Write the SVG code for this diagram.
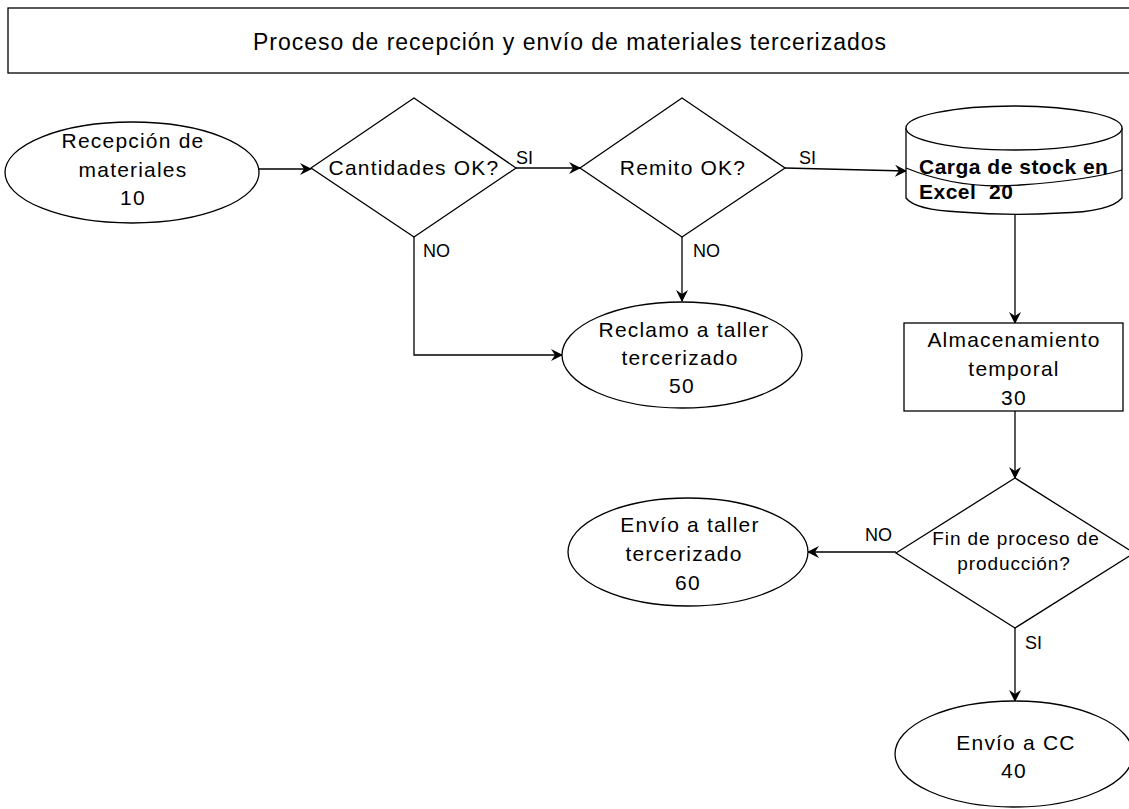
<svg xmlns="http://www.w3.org/2000/svg" width="1129" height="809" viewBox="0 0 1129 809">
<defs>
<style>
.s{fill:#fff;stroke:#000;stroke-width:1.3}
.c{fill:none;stroke:#000;stroke-width:1.3}
.t{font-family:"Liberation Sans",Arial,sans-serif;font-size:21px;letter-spacing:1.2px;fill:#000;text-anchor:middle}
.h{font-size:23px;letter-spacing:1px}
.f{font-size:19px;letter-spacing:0.9px}
.l{font-family:"Liberation Sans",Arial,sans-serif;font-size:18px;fill:#000}
.b{font-family:"Liberation Sans",Arial,sans-serif;font-size:21px;font-weight:bold;letter-spacing:0.5px;fill:#000}
</style>
<marker id="a" viewBox="0 0 12 12" refX="11" refY="6" markerWidth="12" markerHeight="12" markerUnits="userSpaceOnUse" orient="auto">
<path d="M0,0 L12,6 L0,12 L4,6 Z" fill="#000"/>
</marker>
</defs>
<rect width="1129" height="809" fill="#fff"/>
<g id="title">
<rect x="8" y="8" width="1130" height="65" class="s"/>
<text x="570" y="50" class="t h">Proceso de recepción y envío de materiales tercerizados</text>
</g>
<g id="connectors">
<line x1="259" y1="169" x2="311" y2="169" class="c" marker-end="url(#a)"/>
<line x1="516" y1="168" x2="580" y2="168" class="c" marker-end="url(#a)"/>
<line x1="785" y1="168" x2="906" y2="171" class="c" marker-end="url(#a)"/>
<polyline points="414,237 414,355 562,355" class="c" marker-end="url(#a)"/>
<line x1="682" y1="237" x2="682" y2="301" class="c" marker-end="url(#a)"/>
<line x1="1015" y1="213" x2="1015" y2="323" class="c" marker-end="url(#a)"/>
<line x1="1015" y1="411" x2="1015" y2="478" class="c" marker-end="url(#a)"/>
<line x1="896" y1="552" x2="808" y2="552" class="c" marker-end="url(#a)"/>
<line x1="1015" y1="628" x2="1015" y2="701" class="c" marker-end="url(#a)"/>
<text x="516" y="164" class="l">SI</text>
<text x="799" y="164" class="l">SI</text>
<text x="423" y="257" class="l">NO</text>
<text x="693" y="257" class="l">NO</text>
<text x="865" y="541" class="l">NO</text>
<text x="1025" y="649" class="l">SI</text>
</g>
<g id="n10">
<ellipse cx="132" cy="172.5" rx="127" ry="50.5" class="s"/>
<text x="133" y="148" class="t">Recepción de</text>
<text x="133" y="177" class="t">materiales</text>
<text x="133" y="205" class="t">10</text>
</g>
<g id="d1">
<polygon points="311,168 414,98 516,168 414,237" class="s"/>
<text x="414" y="175" class="t">Cantidades OK?</text>
</g>
<g id="d2">
<polygon points="580,168 682,98 785,168 682,237" class="s"/>
<text x="683" y="175" class="t">Remito OK?</text>
</g>
<g id="n20">
<path d="M906,128 V198 Q915,210 960,212 Q1010,216 1060,213 Q1110,212 1122,198 V128" class="s"/>
<ellipse cx="1014" cy="128" rx="108" ry="22" class="s"/>
<path d="M906,168 Q960,190 1020,185 Q1090,180 1122,170" class="c"/>
<text x="919" y="174" class="b">Carga de stock en</text>
<text x="919" y="199" class="b" xml:space="preserve">Excel  20</text>
</g>
<g id="n50">
<ellipse cx="682" cy="355" rx="120" ry="53" class="s"/>
<text x="684" y="337" class="t">Reclamo a taller</text>
<text x="680" y="365" class="t">tercerizado</text>
<text x="682" y="393" class="t">50</text>
</g>
<g id="n30">
<rect x="904" y="323" width="219" height="88" class="s"/>
<text x="1014" y="347" class="t">Almacenamiento</text>
<text x="1014" y="376" class="t">temporal</text>
<text x="1014" y="405" class="t">30</text>
</g>
<g id="d3">
<polygon points="896,553 1015,478 1134,553 1015,628" class="s"/>
<text x="1016" y="545" class="t f">Fin de proceso de</text>
<text x="1014" y="570" class="t f">producción?</text>
</g>
<g id="n60">
<ellipse cx="688" cy="552" rx="120" ry="54" class="s"/>
<text x="690" y="532" class="t">Envío a taller</text>
<text x="684" y="561" class="t">tercerizado</text>
<text x="688" y="590" class="t">60</text>
</g>
<g id="n40">
<ellipse cx="1014" cy="754" rx="119" ry="53" class="s"/>
<text x="1016" y="750" class="t">Envío a CC</text>
<text x="1014" y="778" class="t">40</text>
</g>
</svg>
